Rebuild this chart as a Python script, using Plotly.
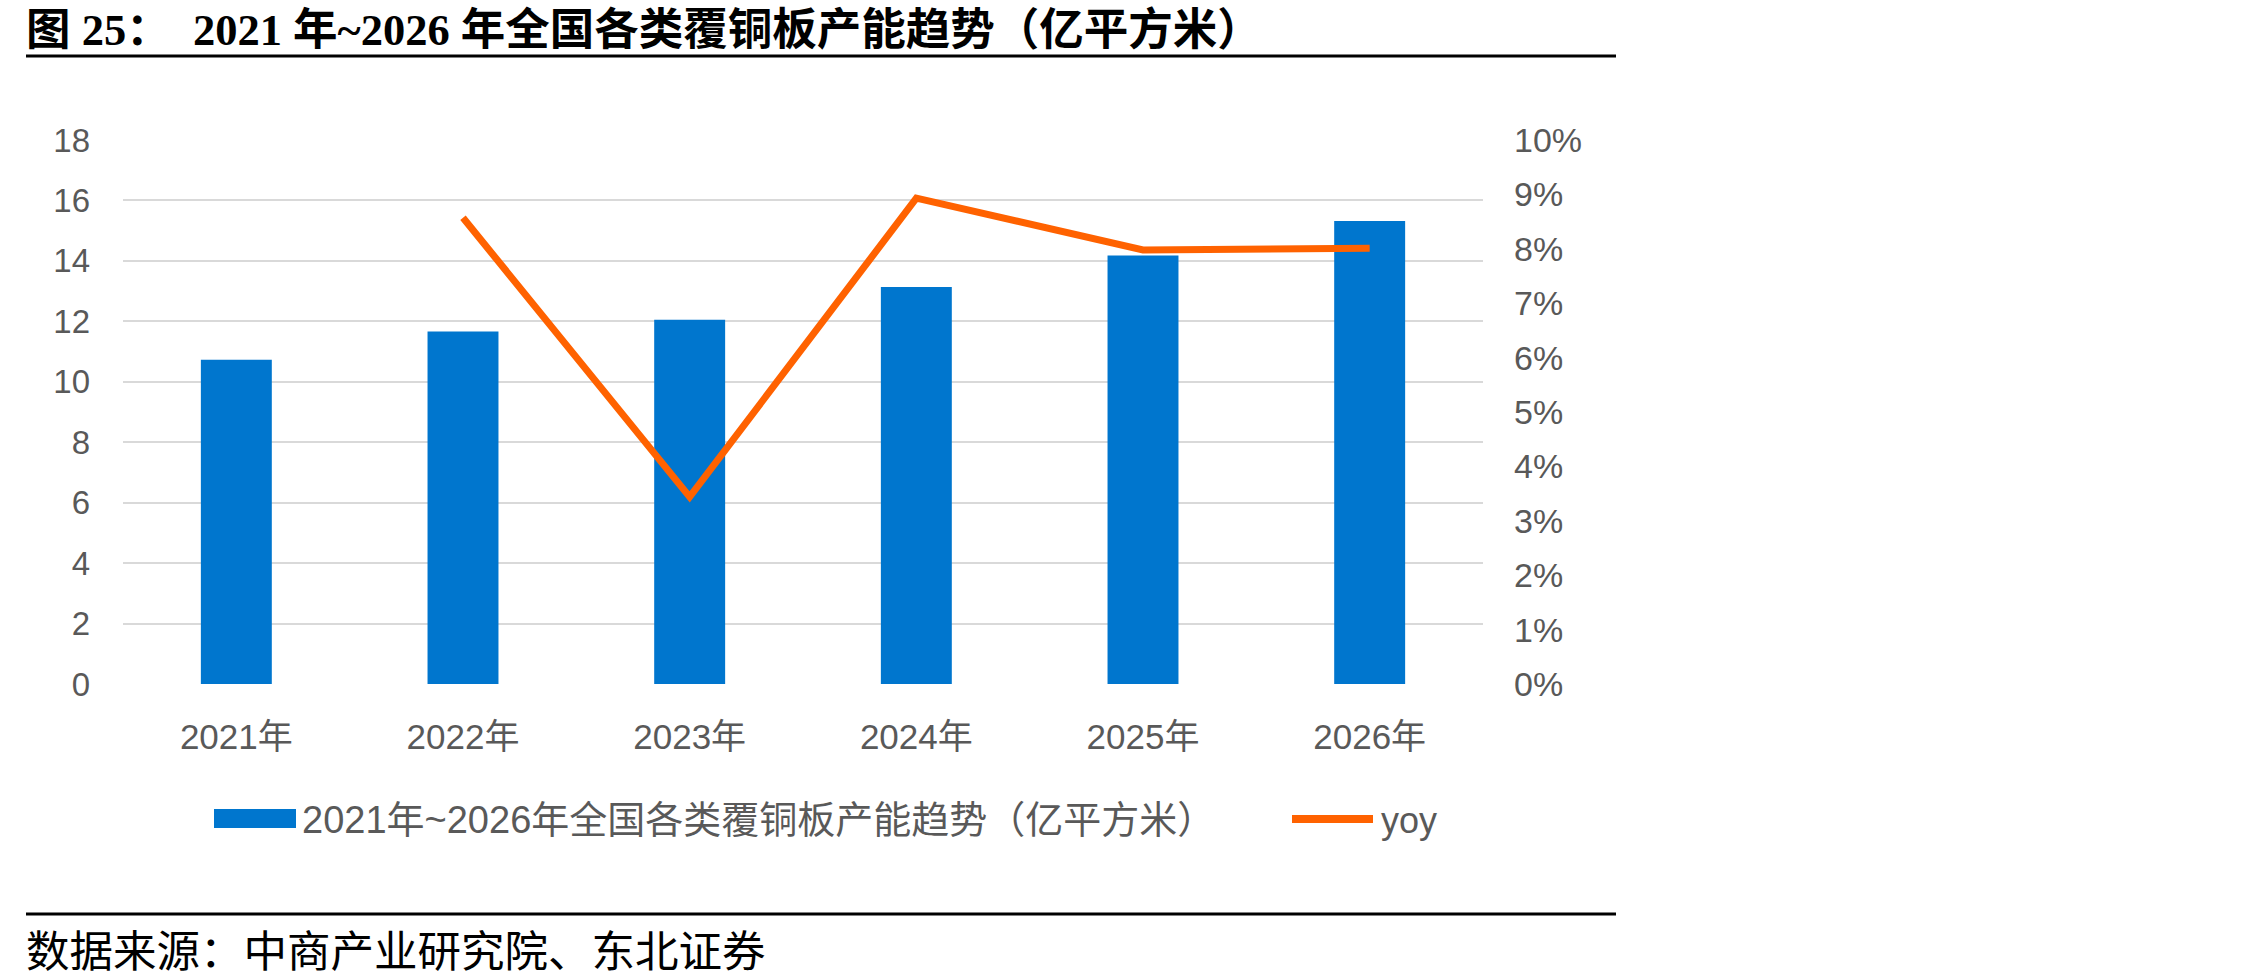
import plotly.graph_objects as go

# ---- data ----
categories = ["2021年", "2022年", "2023年", "2024年", "2025年", "2026年"]
capacity = [10.73, 11.66, 12.05, 13.14, 14.18, 15.32]
yoy = [None, 0.0857, 0.0344, 0.0893, 0.0798, 0.0801]
left_ticks = list(range(0, 19, 2))
right_ticks = [i / 100 for i in range(0, 11)]

bar_name = "2021年~2026年全国各类覆铜板产能趋势（亿平方米）"
line_name = "yoy"
title_text = "图 25：  2021 年~2026 年全国各类覆铜板产能趋势（亿平方米）"
source_text = "数据来源：中商产业研究院、东北证券"

W, H = 2268, 980
L, R, T, B = 123, 1483, 140, 684  # plot area in pixels

def px(x):
    return (x - L) / (R - L)

def py(y):
    return (B - y) / (B - T)

BLUE = "#0076CE"
ORANGE = "#FF6200"
GRAY = "#595959"
FONT = "Liberation Sans, Arial, Noto Sans CJK SC, sans-serif"

fig = go.Figure()
fig.add_trace(go.Bar(x=categories, y=capacity, name=bar_name,
                     marker=dict(color=BLUE, line=dict(width=0)),
                     showlegend=False))
fig.add_trace(go.Scatter(x=categories, y=yoy, name=line_name, yaxis="y2",
                         mode="lines", line=dict(color=ORANGE, width=7),
                         connectgaps=False, showlegend=False))

shapes = [
    dict(type="line", xref="paper", yref="paper", x0=px(26), x1=px(1616),
         y0=py(56), y1=py(56), line=dict(color="black", width=3)),
    dict(type="line", xref="paper", yref="paper", x0=px(26), x1=px(1616),
         y0=py(914), y1=py(914), line=dict(color="black", width=3)),
    # legend swatches
    dict(type="rect", xref="paper", yref="paper", x0=px(214), x1=px(296),
         y0=py(828), y1=py(809), fillcolor=BLUE, line=dict(width=0)),
    dict(type="line", xref="paper", yref="paper", x0=px(1292), x1=px(1373),
         y0=py(819), y1=py(819), line=dict(color=ORANGE, width=8)),
]

annotations = [
    dict(text="<b>" + title_text + "</b>", xref="paper", yref="paper",
         x=px(24), y=py(30), xanchor="left", yanchor="middle", showarrow=False,
         font=dict(family="Liberation Serif, Noto Sans CJK SC, serif", size=44.5, color="black")),
    dict(text=source_text, xref="paper", yref="paper",
         x=px(24), y=py(948), xanchor="left", yanchor="middle", showarrow=False,
         font=dict(family="Noto Sans CJK SC, sans-serif", size=43.5, color="black")),
    dict(text=bar_name, xref="paper", yref="paper",
         x=px(300), y=py(820), xanchor="left", yanchor="middle", showarrow=False,
         font=dict(family=FONT, size=38, color=GRAY)),
    dict(text=line_name, xref="paper", yref="paper",
         x=px(1379), y=py(820), xanchor="left", yanchor="middle", showarrow=False,
         font=dict(family=FONT, size=36, color=GRAY)),
]

fig.update_layout(
    width=W, height=H,
    margin=dict(l=L, r=W - R, t=T, b=H - B, pad=0),
    paper_bgcolor="white", plot_bgcolor="white",
    bargap=0.687,
    font=dict(family=FONT, size=33, color=GRAY),
    xaxis=dict(type="category", showgrid=False, showline=False, zeroline=False,
               ticks="", ticklabelstandoff=29,
               tickfont=dict(size=35, color=GRAY)),
    yaxis=dict(range=[0, 18], tickvals=left_ticks, showgrid=True,
               gridcolor="#D9D9D9", gridwidth=2, zeroline=False, showline=False,
               ticks="", ticklabelstandoff=32,
               tickfont=dict(size=33, color=GRAY)),
    yaxis2=dict(range=[0, 0.10], tickvals=right_ticks, tickformat=".0%",
                overlaying="y", side="right", showgrid=False, zeroline=False,
                showline=False, ticks="", ticklabelstandoff=30,
                tickfont=dict(size=34, color=GRAY)),
    shapes=shapes,
    annotations=annotations,
    showlegend=False,
)

fig.write_html("out.html")
